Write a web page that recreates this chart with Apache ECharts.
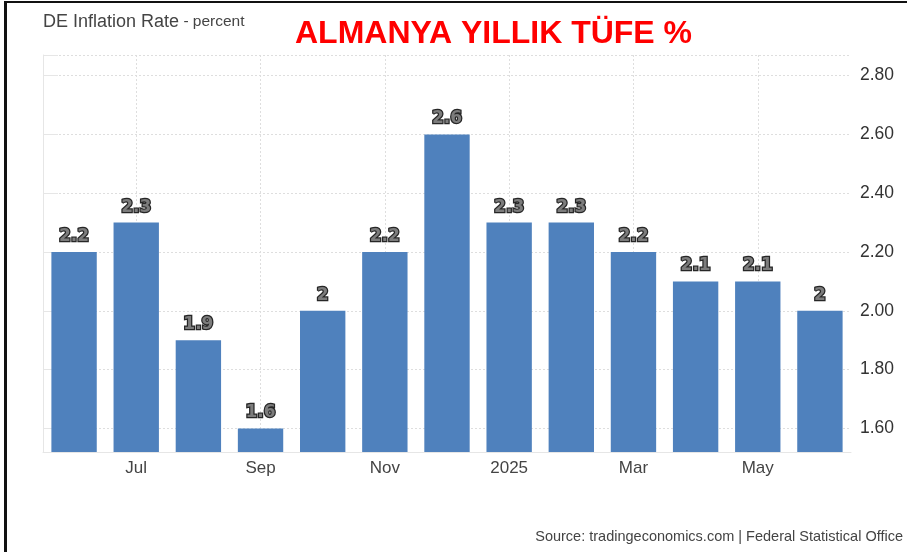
<!DOCTYPE html>
<html>
<head>
<meta charset="utf-8">
<script src="https://cdn.jsdelivr.net/npm/echarts@6/dist/echarts.min.js"></script>
<style>
html,body{margin:0;padding:0;background:#fff;}
#chart{width:907px;height:552px;}
</style>
</head>
<body>
<div id="chart"></div>
<script>
const categories = ['Jun', 'Jul', 'Aug', 'Sep', 'Oct', 'Nov', 'Dec', '2025', 'Feb', 'Mar', 'Apr', 'May', 'Jun'];
const values = [2.2, 2.3, 1.9, 1.6, 2.0, 2.2, 2.6, 2.3, 2.3, 2.2, 2.1, 2.1, 2.0];
const yTickLabels = [1.6, 1.8, 2.0, 2.2, 2.4, 2.6, 2.8];
const yMin = 1.52, yMax = 2.87;
const vGridAt = [1.5, 3.5, 5.5, 7.5, 9.5, 11.5];

const chart = echarts.init(document.getElementById('chart'));
const font = '"Liberation Sans", Arial, sans-serif';
chart.setOption({
  animation: false,
  backgroundColor: '#fff',
  textStyle: { fontFamily: font },
  grid: { left: 43, right: 56, top: 55, bottom: 100, containLabel: false },
  graphic: [
    { type: 'rect', shape: { x: 4, y: 1, width: 903, height: 2 }, style: { fill: '#111' }, silent: true },
    { type: 'rect', shape: { x: 4, y: 1, width: 3, height: 551 }, style: { fill: '#111' }, silent: true },
    { type: 'line', shape: { x1: 43.5, y1: 55, x2: 43.5, y2: 452 }, style: { stroke: '#e6e6e6', lineWidth: 1 }, silent: true },
    { type: 'text', left: 43, top: 13, style: { rich: { a: { fontSize: 18, fill: '#444', fontFamily: font }, b: { fontSize: 15.5, fill: '#444', fontFamily: font } }, text: '{a|DE Inflation Rate}{b| - percent}' } },
    { type: 'text', left: 295, top: 18, style: { text: 'ALMANYA YILLIK TÜFE %', fontSize: 32, fontWeight: 'bold', fill: '#ff0000', fontFamily: font } },
    { type: 'text', right: 4, top: 529, style: { text: 'Source: tradingeconomics.com | Federal Statistical Office', fontSize: 14.5, fill: '#444', fontFamily: font } }
  ],
  xAxis: [{
    type: 'category',
    data: categories,
    boundaryGap: true,
    axisLine: { show: true, lineStyle: { color: '#e6e6e6', width: 1 } },
    axisTick: { show: false },
    axisLabel: { interval: (i) => i % 2 === 1, color: '#444', fontSize: 17, margin: 8, fontFamily: font },
    splitLine: { show: false }
  }, {
    type: 'value',
    min: 0, max: 13,
    position: 'bottom',
    show: true,
    axisLine: { show: false },
    axisLabel: { show: false },
    axisTick: { show: false, customValues: vGridAt },
    splitLine: { show: true, lineStyle: { color: '#dedede', type: [2, 2], width: 1 } }
  }],
  yAxis: {
    type: 'value',
    position: 'right',
    min: yMin, max: yMax,
    axisLine: { show: true, lineStyle: { color: '#e6e6e6', width: 1 } },
    axisTick: { show: true, inside: false, length: 15, lineStyle: { color: '#e6e6e6' }, customValues: [yMin].concat(yTickLabels, [yMax]) },
    axisLabel: { customValues: yTickLabels, formatter: (v) => v.toFixed(2), color: '#333', fontSize: 17.5, margin: 9, fontFamily: font, verticalAlign: 'middle' },
    splitLine: { show: true, lineStyle: { color: '#dedede', type: [2, 2], width: 1 } }
  },
  series: [{
    type: 'bar',
    data: values,
    xAxisIndex: 0,
    barCategoryGap: '27%',
    itemStyle: { color: '#4f81bd' },
    label: {
      show: true,
      position: 'top',
      distance: 7,
      formatter: (p) => String(p.value),
      fontSize: 17,
      fontWeight: 'bold',
      fontFamily: '"DejaVu Sans", sans-serif',
      color: '#7c7c7c',
      textBorderColor: '#262626',
      textBorderWidth: 2.5
    }
  }]
});
</script>
</body>
</html>
